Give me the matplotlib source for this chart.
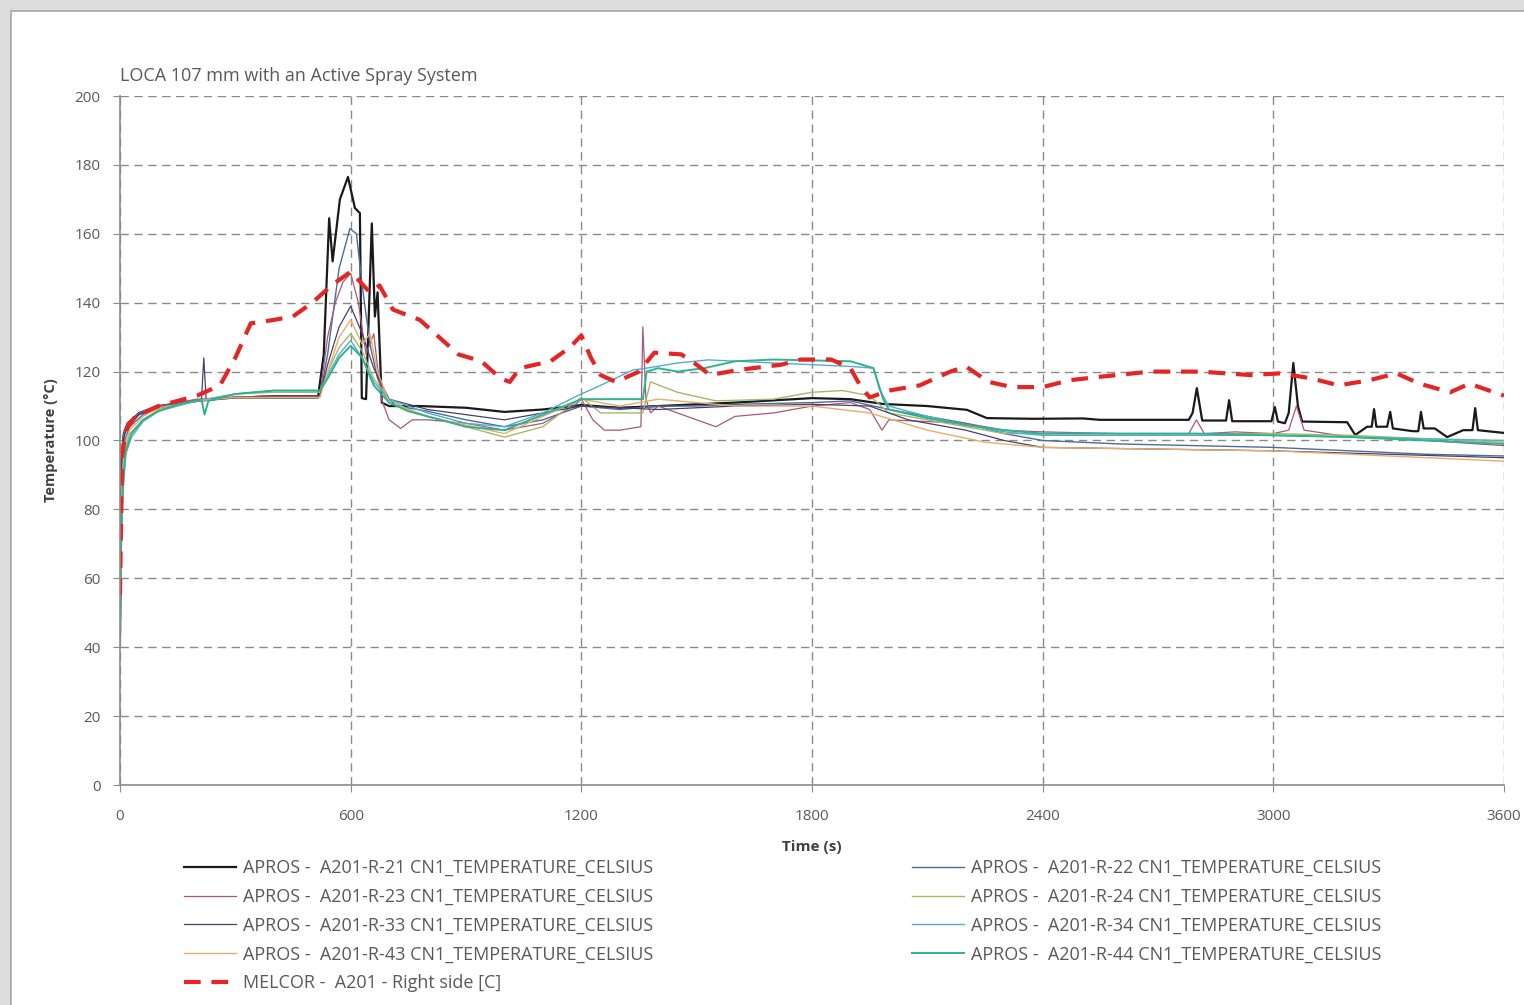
import matplotlib.pyplot as plt
from matplotlib.patches import Rectangle

plt.rcParams['font.family'] = ['Open Sans', 'DejaVu Sans']

# ---- data ----
t21 = [0, 4, 10, 20, 50, 100, 200, 300, 400, 515, 530, 544, 553, 572, 593, 611, 624, 629, 640, 655, 663, 670,
       681, 700, 780, 900, 1000, 1100, 1200, 1300, 1400, 1500, 1600, 1800, 1900, 1985, 2100, 2203, 2255, 2375,
       2505, 2549, 2780, 2790, 2801, 2815, 2877, 2885, 2893, 2995, 3004, 3012, 3030, 3040, 3052, 3064, 3075,
       3192, 3213, 3244, 3256, 3262, 3268, 3296, 3304, 3311, 3363, 3377, 3384, 3391, 3420, 3452, 3494, 3518,
       3525, 3532, 3600]
T21 = [43, 95, 102, 105, 108, 110, 111.5, 112.5, 112.5, 112.5, 125, 164.5, 152, 170, 176.5, 167.5, 166, 112.3,
       112, 163, 136, 143, 111, 110, 110, 109.5, 108.3, 109, 110.3, 109.5, 110, 110.5, 111, 112.3, 112, 110.6,
       110, 108.9, 106.5, 106.3, 106.4, 106, 106, 108, 115.2, 105.8, 105.8, 111.7, 105.6, 105.6, 109.7, 105.5,
       105, 108, 122.5, 110, 105.5, 105.3, 101.6, 104, 104, 109.1, 104, 104, 108.3, 103.5, 102.7, 102.7, 108.3,
       103.5, 103.5, 101, 103, 103, 109.4, 103, 102.2]

t22 = [0, 5, 12, 25, 60, 100, 200, 300, 400, 520, 540, 570, 598, 615, 630, 650, 670, 690, 720, 800, 900, 1000,
       1100, 1200, 1300, 1400, 1500, 1600, 1800, 1900, 2000, 2100, 2200, 2300, 2400, 2600, 2800, 3000, 3200,
       3400, 3600]
T22 = [43, 90, 100, 104, 107.5, 109.5, 111.5, 112.5, 113, 113, 125, 150, 161.5, 160, 145, 128, 118, 113, 110,
       108.5, 106, 104, 106, 110, 109, 110, 110, 110.5, 111, 111.5, 109, 107, 105, 102, 100, 99, 98.5, 98, 97,
       96, 95.5]

t23 = [0, 4, 10, 20, 50, 100, 150, 200, 300, 400, 520, 540, 560, 580, 600, 620, 640, 660, 680, 700, 730, 760,
       800, 900, 1000, 1100, 1180, 1200, 1230, 1260, 1300, 1355, 1360, 1368, 1380, 1400, 1450, 1500, 1550, 1600,
       1700, 1800, 1900, 1950, 1982, 2000, 2100, 2200, 2300, 2400, 2600, 2780, 2800, 2820, 2900, 3000, 3040,
       3060, 3080, 3200, 3400, 3600]
T23 = [43, 96, 102, 105, 108, 110, 111, 112, 112.5, 113, 113, 130, 140, 146, 148.5, 140, 125, 131, 112, 106,
       103.5, 106, 106, 105, 103, 105, 110, 112, 106, 103, 103, 104, 133, 112, 108, 110, 108, 106, 104, 107, 108,
       110, 111, 109, 103, 106, 105.5, 105, 103, 102.5, 102, 102, 106, 102, 102.5, 102, 103, 110, 103, 101, 100,
       98.5]

t24 = [0, 5, 12, 25, 60, 100, 200, 300, 400, 520, 540, 570, 600, 630, 660, 700, 750, 800, 900, 1000, 1100,
       1200, 1250, 1360, 1380, 1450, 1550, 1700, 1800, 1880, 1950, 2000, 2100, 2200, 2300, 2500, 2700, 3000,
       3200, 3400, 3600]
T24 = [43, 85, 97, 102, 106, 109, 111.5, 113.5, 114, 114, 120, 127, 131, 126, 118, 112, 109, 107, 104, 101,
       104, 112.5, 108, 108, 117, 114, 111.5, 112, 114, 114.5, 113, 108, 106, 104, 102, 102, 102, 102, 101.5,
       100.5, 99.5]

t33 = [0, 4, 10, 20, 50, 100, 200, 212, 218, 224, 300, 400, 520, 540, 570, 600, 630, 660, 700, 800, 1000,
       1200, 1400, 1600, 1800, 1950, 2050, 2200, 2300, 2400, 2700, 3000, 3300, 3600]
T33 = [43, 93, 101, 104, 107.5, 109.5, 111.5, 112, 124, 112, 112.5, 113, 113, 122, 133, 139, 131, 121, 112,
       109, 106, 110, 109, 110, 110.5, 110, 106, 103, 100, 98, 97.5, 97, 96, 95]

t34 = [0, 5, 15, 30, 60, 100, 200, 300, 400, 520, 540, 570, 600, 630, 660, 700, 750, 800, 900, 1000, 1100,
       1190, 1250, 1335, 1370, 1450, 1530, 1700, 1800, 1900, 1960, 1975, 2000, 2100, 2200, 2300, 2400, 2600,
       2800, 3000, 3200, 3400, 3600]
T34 = [43, 80, 96, 101, 105.5, 108.5, 111.5, 113.5, 114.5, 114.5, 119, 125, 129, 124, 117, 112, 110, 108, 105,
       104, 108, 113, 116, 120.5, 121, 122.5, 123.4, 122.5, 122, 121.5, 121, 115, 110, 107, 104.5, 102.5, 101.5,
       101.5, 101.5, 101.5, 101, 100.5, 100]

t43 = [0, 5, 12, 25, 60, 100, 200, 300, 400, 520, 540, 570, 600, 630, 650, 670, 700, 800, 1000, 1200, 1300,
       1400, 1600, 1800, 1950, 2100, 2250, 2400, 2700, 3000, 3300, 3600]
T43 = [43, 88, 99, 103, 107, 109.5, 111.5, 112.5, 112.5, 112.5, 120, 130, 135, 128, 131, 120, 111, 107, 102,
       112, 110, 112, 110, 110, 108, 103, 99.5, 98, 97.5, 97, 95.5, 94]

t44 = [0, 3, 8, 15, 30, 60, 100, 150, 200, 212, 220, 230, 300, 400, 520, 540, 570, 600, 630, 660, 700, 750,
       800, 900, 1000, 1200, 1360, 1370, 1400, 1450, 1520, 1600, 1700, 1900, 1960, 1985, 2000, 2100, 2200, 2300,
       2400, 2600, 2800, 3000, 3200, 3400, 3600]
T44 = [43, 70, 88, 97, 102, 106, 108.5, 110.5, 111.5, 112, 107.5, 111.5, 113.5, 114.5, 114.5, 118, 124, 127.5,
       124, 116, 111, 108.5, 107, 104, 103, 112, 112, 120, 121, 120, 121, 123, 123.5, 123, 121, 112, 109, 106.5,
       104.5, 103, 102, 102, 102, 101.5, 101, 100, 99]

t_mel = [0, 5, 15, 40, 100, 200, 260, 300, 340, 400, 450, 500, 550, 600, 625, 650, 675, 710, 780, 830, 880,
         940, 990, 1014, 1040, 1120, 1170, 1200, 1225, 1250, 1290, 1350, 1390, 1460, 1500, 1535, 1610, 1720,
         1770, 1850, 1900, 1925, 1950, 2000, 2080, 2160, 2200, 2260, 2320, 2400, 2470, 2550, 2680, 2810, 2940,
         3020, 3100, 3170, 3250, 3320, 3380, 3460, 3510, 3600]
T_mel = [55, 95, 103, 107, 110, 113, 116, 124, 134, 135, 136, 140, 145, 149, 146, 143, 145, 138, 135, 130, 125,
         123, 118, 117, 121, 123, 127, 130.5, 124, 119, 117, 120, 125.5, 125, 122, 119, 120.5, 122, 123.5, 123.5,
         121, 116, 112.5, 114.5, 116, 120, 121.5, 117, 115.5, 115.5, 117.5, 118.5, 120, 120, 119, 119.5, 118, 116,
         117.5, 119.5, 116.5, 114, 116.5, 113]

xticks = [0, 600, 1200, 1800, 2400, 3000, 3600]
yticks = list(range(0, 201, 20))

txt = '#595959'
fig = plt.figure(figsize=(15.24, 10.05), dpi=100, facecolor='#dcdcdc')
fig.patches.append(Rectangle((11 / 1524, -0.1), 1.2, 1 - 11 / 1005 + 0.1, transform=fig.transFigure,
                             facecolor='white', edgecolor='#a6a6a6', lw=1.2, zorder=-10))

ax = fig.add_axes([120 / 1524, 1 - 785 / 1005, (1504 - 120) / 1524, (785 - 96) / 1005])
ax.set_facecolor('white')

h21, = ax.plot(t21, T21, color='#1a1a1a', lw=1.6, label='APROS -  A201-R-21 CN1_TEMPERATURE_CELSIUS')
h22, = ax.plot(t22, T22, color='#4a6d9c', lw=1.0, label='APROS -  A201-R-22 CN1_TEMPERATURE_CELSIUS')
h23, = ax.plot(t23, T23, color='#a8587a', lw=0.9, label='APROS -  A201-R-23 CN1_TEMPERATURE_CELSIUS')
h24, = ax.plot(t24, T24, color='#a5b868', lw=1.0, label='APROS -  A201-R-24 CN1_TEMPERATURE_CELSIUS')
h33, = ax.plot(t33, T33, color='#4b3f6b', lw=0.9, label='APROS -  A201-R-33 CN1_TEMPERATURE_CELSIUS')
h34, = ax.plot(t34, T34, color='#52aed0', lw=1.0, label='APROS -  A201-R-34 CN1_TEMPERATURE_CELSIUS')
h43, = ax.plot(t43, T43, color='#e8ad6c', lw=1.0, label='APROS -  A201-R-43 CN1_TEMPERATURE_CELSIUS')
h44, = ax.plot(t44, T44, color='#2fb38e', lw=1.4, label='APROS -  A201-R-44 CN1_TEMPERATURE_CELSIUS')
hm, = ax.plot(t_mel, T_mel, color='#e52424', lw=3.0, dashes=(4, 2.6), label='MELCOR -  A201 - Right side [C]')

ax.set_xlim(0, 3600)
ax.set_ylim(0, 200)
ax.set_xticks(xticks)
ax.set_yticks(yticks)
ax.grid(True, color='#8a8a8a', ls=(0, (6, 4)), lw=1.0)
for s in ['top', 'right']:
    ax.spines[s].set_visible(False)
for s in ['left', 'bottom']:
    ax.spines[s].set_color('#8c8c8c')
    ax.spines[s].set_linewidth(1.2)
ax.tick_params(colors='#8c8c8c', labelcolor=txt, labelsize=11, length=5, pad=9)
ax.tick_params(axis='x', pad=12)

ax.set_xlabel('Time (s)', fontsize=11, fontweight='bold', color='#404040', labelpad=12)
ax.set_ylabel('Temperature (°C)', fontsize=10.5, fontweight='bold', color='#404040', labelpad=12)
fig.text(120 / 1524, 1 - 76 / 1005, 'LOCA 107 mm with an Active Spray System', fontsize=13, color=txt,
         ha='left', va='center')

legkw = dict(loc='upper left', frameon=False, fontsize=13, handlelength=2.9, handletextpad=0.35,
             labelspacing=0.6, borderpad=0, borderaxespad=0)
leg1 = fig.legend(handles=[h21, h23, h33, h43, hm], bbox_to_anchor=(184 / 1524, 1 - 859 / 1005), **legkw)
leg2 = fig.legend(handles=[h22, h24, h34, h44], bbox_to_anchor=(912 / 1524, 1 - 859 / 1005), **legkw)
for leg in (leg1, leg2):
    for t in leg.get_texts():
        t.set_color(txt)

plt.savefig('out.png', dpi=100, facecolor=fig.get_facecolor())
